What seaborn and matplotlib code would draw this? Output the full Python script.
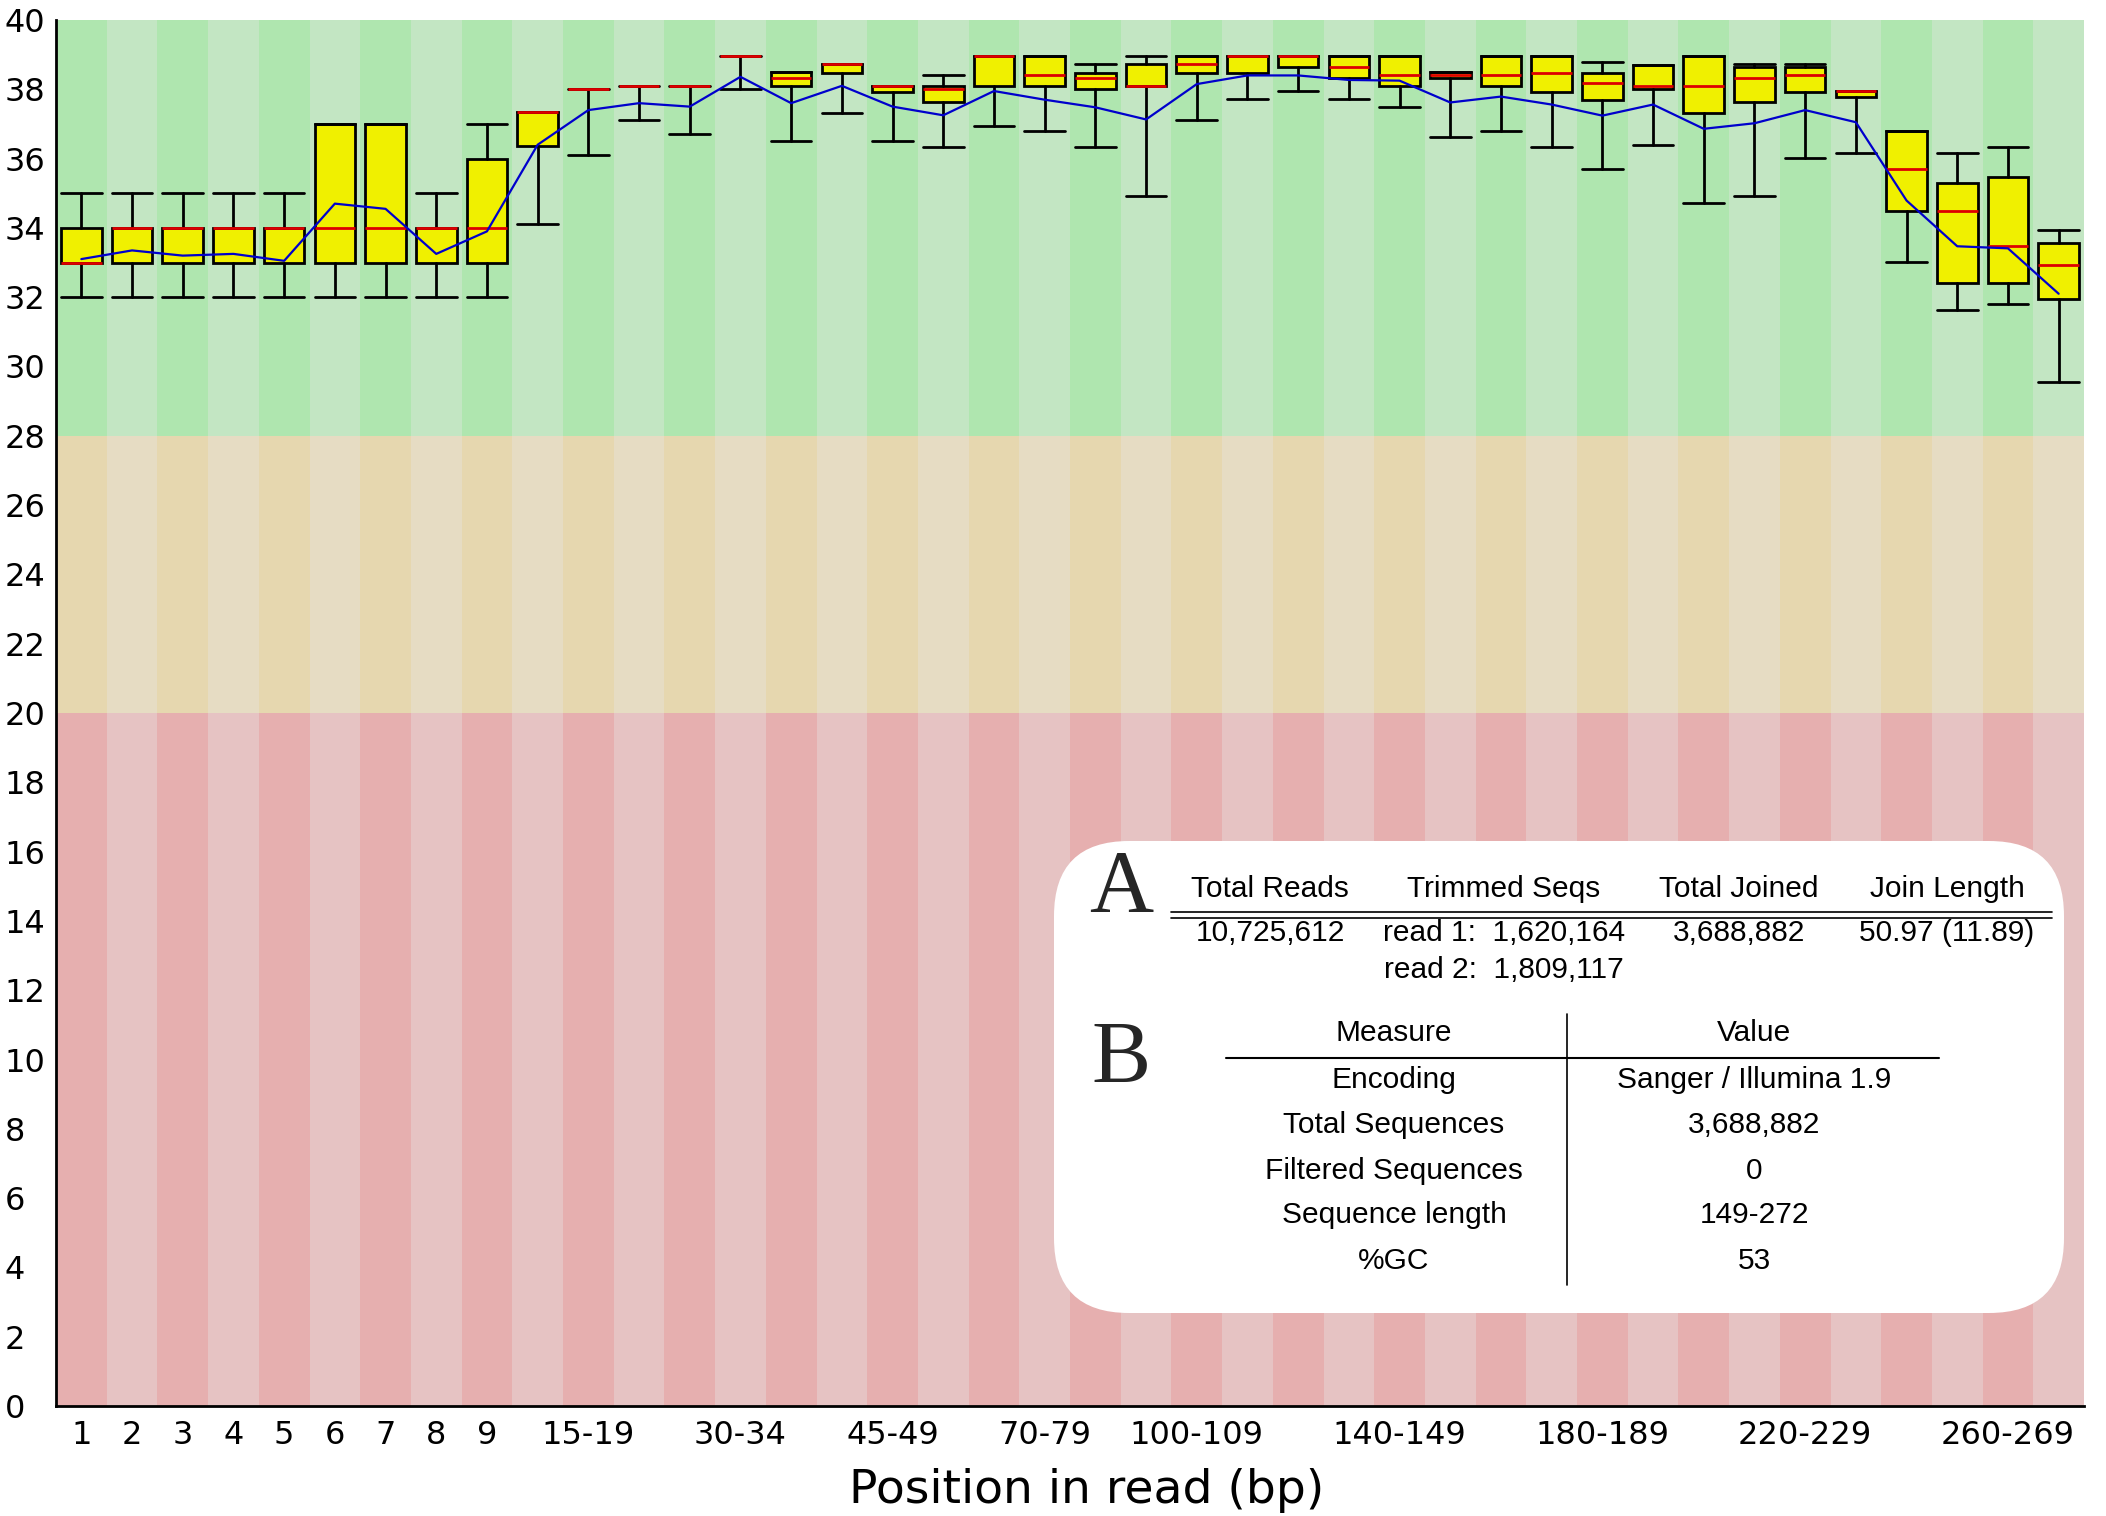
import numpy as np
import matplotlib
matplotlib.use("Agg")
import matplotlib.pyplot as plt
from matplotlib.patches import FancyBboxPatch
from matplotlib import font_manager
import seaborn as sns

# Per-base quality data (FastQC style)
categories = ["1", "2", "3", "4", "5", "6", "7", "8", "9",
              "10-14", "15-19", "20-24", "25-29", "30-34", "35-39", "40-44", "45-49",
              "50-59", "60-69", "70-79", "80-89", "90-99", "100-109", "110-119",
              "120-129", "130-139", "140-149", "150-159", "160-169", "170-179",
              "180-189", "190-199", "200-209", "210-219", "220-229", "230-239",
              "240-249", "250-259", "260-269", "270-272"]
whisker_low = [32, 32, 32, 32, 32, 32, 32, 32, 32,
               34.1, 36.1, 37.1, 36.7, 38.0, 36.5, 37.33, 36.5,
               36.33, 36.95, 36.8, 36.33, 34.93, 37.1, 37.72,
               37.95, 37.72, 37.48, 36.63, 36.79, 36.33,
               35.71, 36.4, 34.71, 34.93, 36.02, 36.17,
               33.02, 31.63, 31.79, 29.55]
lower_quartile = [33, 33, 33, 33, 33, 33, 33, 33, 33,
                  36.35, 38.0, 38.1, 38.1, 38.95, 38.1, 38.47, 37.93,
                  37.62, 38.1, 38.1, 38.0, 38.1, 38.48, 38.48,
                  38.63, 38.33, 38.1, 38.33, 38.1, 37.93,
                  37.7, 38.0, 37.33, 37.62, 37.93, 37.79,
                  34.48, 32.4, 32.4, 31.94]
median = [33, 34, 34, 34, 34, 34, 34, 34, 34,
          37.35, 38.0, 38.1, 38.1, 38.95, 38.33, 38.72, 38.1,
          38.0, 38.95, 38.42, 38.33, 38.1, 38.72, 38.95,
          38.95, 38.63, 38.41, 38.4, 38.41, 38.48,
          38.17, 38.1, 38.1, 38.33, 38.41, 37.94,
          35.71, 34.48, 33.47, 32.94]
upper_quartile = [34, 34, 34, 34, 34, 37, 37, 34, 36,
                  37.35, 38.0, 38.1, 38.1, 38.95, 38.5, 38.72, 38.1,
                  38.1, 38.95, 38.95, 38.48, 38.72, 38.95, 38.95,
                  38.95, 38.95, 38.95, 38.49, 38.95, 38.95,
                  38.48, 38.71, 38.95, 38.63, 38.65, 37.94,
                  36.79, 35.31, 35.48, 33.56]
whisker_high = [35, 35, 35, 35, 35, 37, 37, 35, 37,
                37.35, 38.0, 38.1, 38.1, 38.95, 38.5, 38.72, 38.1,
                38.41, 38.95, 38.95, 38.72, 38.95, 38.95, 38.95,
                38.95, 38.95, 38.95, 38.49, 38.95, 38.95,
                38.78, 38.71, 38.95, 38.72, 38.72, 37.94,
                36.79, 36.17, 36.33, 33.94]
mean_quality = [33.1, 33.35, 33.2, 33.25, 33.05, 34.7, 34.55, 33.25, 33.9,
                36.4, 37.4, 37.6, 37.5, 38.36, 37.6, 38.1, 37.5,
                37.25, 37.95, 37.7, 37.48, 37.13, 38.15, 38.4,
                38.4, 38.27, 38.25, 37.62, 37.79, 37.56,
                37.24, 37.56, 36.86, 37.02, 37.4, 37.05,
                34.79, 33.47, 33.41, 32.1]
shown_ticks = ["1", "2", "3", "4", "5", "6", "7", "8", "9", "15-19", "30-34",
               "45-49", "70-79", "100-109", "140-149", "180-189", "220-229", "260-269"]

# Table values
table_a_header = ["Total Reads", "Trimmed Seqs", "Total Joined", "Join Length"]
table_a_row1 = ["10,725,612", "read 1:  1,620,164", "3,688,882", "50.97 (11.89)"]
table_a_row2 = ["", "read 2:  1,809,117", "", ""]
table_b_header = ["Measure", "Value"]
measures = ["Encoding", "Total Sequences", "Filtered Sequences", "Sequence length", "%GC"]
measure_values = ["Sanger / Illumina 1.9", "3,688,882", "0", "149-272", "53"]

sns.set_style("white")
plt.rcParams["font.family"] = ["DejaVu Sans"]

installed = {f.name for f in font_manager.fontManager.ttflist}
table_font = "Liberation Sans" if "Liberation Sans" in installed else "DejaVu Sans"
letter_font = "Liberation Serif" if "Liberation Serif" in installed else "DejaVu Serif"

W, H = 2106, 1516
fig = plt.figure(figsize=(W / 100, H / 100), dpi=100)
ax = fig.add_axes([56 / W, 1 - 1406 / H, (2084 - 56) / W, (1406 - 20) / H])

n = len(categories)
pos = np.arange(n)

# background bands
bands = [(0, 20, "#e6afaf", "#e6c3c3"),
         (20, 28, "#e6d7af", "#e6dcc3"),
         (28, 40, "#afe6af", "#c3e6c3")]
for lo, hi, dark, light in bands:
    for i in pos:
        ax.fill_between([i - 0.5, i + 0.5], lo, hi, color=dark if i % 2 == 0 else light,
                        lw=0, zorder=0)

stats = []
for i in range(n):
    stats.append(dict(med=median[i], q1=lower_quartile[i], q3=upper_quartile[i],
                      whislo=whisker_low[i], whishi=whisker_high[i], fliers=[]))
ax.bxp(stats, positions=pos, widths=0.8, capwidths=0.8, patch_artist=True,
       showfliers=False, manage_ticks=False,
       boxprops=dict(facecolor="#f0f000", edgecolor="black", lw=2),
       medianprops=dict(color="#dd0000", lw=2),
       whiskerprops=dict(color="black", lw=2),
       capprops=dict(color="black", lw=2))

sns.lineplot(x=pos, y=mean_quality, ax=ax, color="#0000cc", lw=1.6, zorder=4)

ax.set_xlim(-0.5, n - 0.5)
ax.set_ylim(0, 40)
ax.set_yticks(np.arange(0, 41, 2))
ax.set_xticks([categories.index(t) for t in shown_ticks])
ax.set_xticklabels(shown_ticks)
ax.tick_params(axis="both", length=0, labelsize=23, colors="black")
ax.tick_params(axis="y", pad=37)
ax.tick_params(axis="x", pad=10)
for lab in ax.get_yticklabels():
    lab.set_horizontalalignment("left")
ax.set_xlabel("Position in read (bp)", fontsize=34, labelpad=12, color="black", x=0.508)
for side in ["top", "right"]:
    ax.spines[side].set_visible(False)
for side in ["left", "bottom"]:
    ax.spines[side].set_color("black")
    ax.spines[side].set_linewidth(2)
ax.grid(False)

# overlay in pixel coordinates for the inset tables
ov = fig.add_axes([0, 0, 1, 1], zorder=5)
ov.set_xlim(0, W)
ov.set_ylim(H, 0)
ov.axis("off")
ov.patch.set_alpha(0)

ov.add_patch(FancyBboxPatch((1054, 841), 1010, 472,
                            boxstyle="round,pad=0,rounding_size=75",
                            facecolor="white", edgecolor="none"))

tk = dict(fontfamily=table_font, fontsize=21.5, ha="center", va="center", color="black")
ov.text(1121, 889, "A", fontfamily=letter_font, fontsize=64, ha="center", va="center")
ov.text(1121, 1061, "B", fontfamily=letter_font, fontsize=64, ha="center", va="center")

col_a = [1270, 1504, 1739, 1947]
for x, h, r1, r2 in zip(col_a, table_a_header, table_a_row1, table_a_row2):
    ov.text(x, 889, h, **tk)
    ov.text(x, 933, r1, **tk)
    if r2:
        ov.text(x, 970, r2, **tk)
ov.plot([1171, 2052], [912, 912], color="black", lw=1.2)
ov.plot([1171, 2052], [918, 918], color="black", lw=1.2)

col_b = [1394, 1754]
row_y = [1080, 1125, 1171, 1215, 1261]
ov.text(col_b[0], 1033, table_b_header[0], **tk)
ov.text(col_b[1], 1033, table_b_header[1], **tk)
ov.plot([1226, 1939], [1058, 1058], color="black", lw=1.5)
ov.plot([1567, 1567], [1014, 1285], color="black", lw=1.2)
for y, m, v in zip(row_y, measures, measure_values):
    ov.text(col_b[0], y, m, **tk)
    ov.text(col_b[1], y, v, **tk)

fig.savefig("out.png", dpi=100)
